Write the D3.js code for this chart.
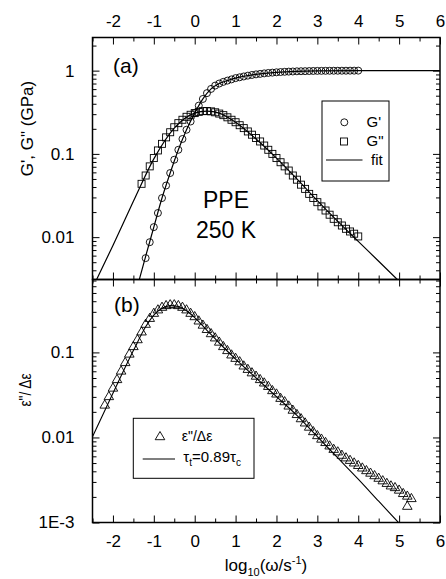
<!DOCTYPE html>
<html><head><meta charset="utf-8">
<script src="https://cdn.jsdelivr.net/npm/d3@7"></script>
<style>
html,body{margin:0;padding:0;background:#fff}
svg{display:block}
text{font-family:"Liberation Sans",Arial,sans-serif;fill:#000}
</style>
</head><body><div id="chart"></div>
<script>
// ---------------- data ----------------
const xTickValues = [-2,-1,0,1,2,3,4,5,6];
const xTickLabels = ["-2","-1","0","1","2","3","4","5","6"];
const xMinorTicks = [-2.5,-1.5,-0.5,0.5,1.5,2.5,3.5,4.5,5.5];
const yaTickValues = [0.01,0.1,1];
const yaTickLabels = ["0.01","0.1","1"];
const ybTickValues = [0.001,0.01,0.1];
const ybTickLabels = ["1E-3","0.01","0.1"];

// panel (a): storage modulus G' (circles)
const logW_Gp = [-1.2,-1.1,-1.0,-0.9,-0.8,-0.7,-0.6,-0.5,-0.4,-0.3,-0.2,-0.1,0.0,0.1,0.2,0.3,0.4,0.5,0.6,0.7,0.8,0.9,1.0,1.1,1.2,1.3,1.4,1.5,1.6,1.7,1.8,1.9,2.0,2.1,2.2,2.3,2.4,2.5,2.6,2.7,2.8,2.9,3.0,3.1,3.2,3.3,3.4,3.5,3.6,3.7,3.8,3.9,4.0];
const Gp = [0.0056,0.0087,0.0132,0.0195,0.0295,0.0417,0.0589,0.0851,0.112,0.151,0.195,0.245,0.309,0.380,0.457,0.537,0.603,0.661,0.700,0.733,0.759,0.785,0.813,0.832,0.851,0.871,0.887,0.902,0.914,0.927,0.938,0.946,0.955,0.962,0.968,0.973,0.977,0.982,0.984,0.986,0.989,0.991,0.993,0.994,0.995,0.996,0.997,0.997,0.998,0.998,0.999,0.999,1.0];

// panel (a): loss modulus G'' (squares)
const logW_Gpp = [-1.3,-1.2,-1.1,-1.0,-0.9,-0.8,-0.7,-0.6,-0.5,-0.4,-0.3,-0.2,-0.1,0.0,0.1,0.2,0.3,0.4,0.5,0.6,0.7,0.8,0.9,1.0,1.1,1.2,1.3,1.4,1.5,1.6,1.7,1.8,1.9,2.0,2.1,2.2,2.3,2.4,2.5,2.6,2.7,2.8,2.9,3.0,3.1,3.2,3.3,3.4,3.5,3.6,3.7,3.8,3.9,4.0];
const Gpp = [0.0437,0.0550,0.0708,0.0891,0.110,0.132,0.158,0.182,0.209,0.234,0.257,0.279,0.295,0.309,0.320,0.326,0.327,0.324,0.316,0.305,0.292,0.275,0.257,0.240,0.221,0.204,0.186,0.170,0.155,0.141,0.126,0.112,0.100,0.0891,0.0794,0.0708,0.0631,0.0550,0.0490,0.0427,0.0380,0.0331,0.0295,0.0263,0.0234,0.0209,0.0186,0.0166,0.0151,0.0138,0.0126,0.0117,0.0110,0.0102];

// panel (a): fits
const fitGp_x = [-1.4,-1.2,-1.0,-0.8,-0.6,-0.4,-0.2,0.0,0.2,0.4,0.6,0.8,1.0,1.5,2.0,2.5,3.0,4.0,5.0,6.0];
const fitGp_y = [0.00257,0.00589,0.0132,0.0295,0.0589,0.112,0.195,0.309,0.457,0.603,0.700,0.759,0.813,0.902,0.955,0.982,0.993,0.999,1.0,1.0];
const fitGpp_x = [-2.45,-2.0,-1.5,-1.0,-0.5,0.0,0.3,0.6,1.0,1.5,2.0,2.5,3.0,3.5,4.0,4.5,5.0];
const fitGpp_y = [0.00275,0.00794,0.0269,0.0871,0.204,0.309,0.327,0.309,0.240,0.151,0.0891,0.0501,0.0275,0.0155,0.00891,0.00513,0.00295];

// panel (b): normalised dielectric loss (triangles)
const logW_eps = [-2.2,-2.1,-2.0,-1.9,-1.8,-1.7,-1.6,-1.5,-1.4,-1.3,-1.2,-1.1,-1.0,-0.9,-0.8,-0.7,-0.6,-0.5,-0.4,-0.3,-0.2,-0.1,0.0,0.1,0.2,0.3,0.4,0.5,0.6,0.7,0.8,0.9,1.0,1.1,1.2,1.3,1.4,1.5,1.6,1.7,1.8,1.9,2.0,2.1,2.2,2.3,2.4,2.5,2.6,2.7,2.8,2.9,3.0,3.1,3.2,3.3,3.4,3.5,3.6,3.7,3.8,3.9,4.0,4.1,4.2,4.3,4.4,4.5,4.6,4.7,4.8,4.9,5.0,5.1,5.2,5.3,5.2];
const epsN = [0.0240,0.0302,0.0380,0.0479,0.0603,0.0759,0.0955,0.117,0.141,0.174,0.214,0.251,0.288,0.316,0.339,0.355,0.363,0.363,0.355,0.339,0.316,0.288,0.263,0.234,0.209,0.186,0.166,0.148,0.132,0.117,0.105,0.0933,0.0851,0.0776,0.0692,0.0631,0.0575,0.0525,0.0479,0.0437,0.0398,0.0355,0.0324,0.0288,0.0263,0.0234,0.0209,0.0186,0.0166,0.0148,0.0132,0.0117,0.0105,0.00955,0.00871,0.00794,0.00724,0.00676,0.00617,0.00575,0.00537,0.00501,0.00468,0.00437,0.00407,0.00380,0.00355,0.00331,0.00309,0.00288,0.00269,0.00257,0.00240,0.00219,0.00204,0.00191,0.00155];

// panel (b): fit
const fitEps_x = [-2.5,-2.0,-1.5,-1.2,-1.0,-0.8,-0.6,-0.4,-0.2,0.0,0.3,0.6,1.0,1.5,2.0,2.5,3.0,3.5,4.0,4.5,5.0];
const fitEps_y = [0.0102,0.0331,0.105,0.200,0.275,0.331,0.355,0.347,0.309,0.257,0.182,0.129,0.0832,0.0501,0.0302,0.0182,0.0102,0.00575,0.00324,0.00178,0.00098];

// ---------------- drawing ----------------
const W = 446, H = 579;
const L = 92.5, R = 440, T = 37.5, M = 279.5, B = 522.5;
const FONT = '"Liberation Sans", Arial, sans-serif';

const x  = d3.scaleLinear().domain([-2.5, 6]).range([L, R]);
const ya = d3.scaleLog().domain([0.0031, 2.5]).range([M, T]);
const yb = d3.scaleLog().domain([0.001, 0.72]).range([B, M]);

const svg = d3.select("#chart").append("svg").attr("width", W).attr("height", H);
const defs = svg.append("defs");
defs.append("clipPath").attr("id", "clipA").append("rect")
  .attr("x", L).attr("y", T).attr("width", R - L).attr("height", M - T);
defs.append("clipPath").attr("id", "clipB").append("rect")
  .attr("x", L).attr("y", M).attr("width", R - L).attr("height", B - M);

function styleAxis(g, fs) {
  g.attr("font-family", null).attr("font-size", null);
  g.select(".domain").remove();
  g.selectAll("line").attr("stroke", "#000").attr("stroke-width", 1);
  g.selectAll("text").attr("font-size", fs).attr("font-family", FONT).attr("fill", "#000");
}
const yaMinor = [0.004,0.005,0.006,0.007,0.008,0.009,0.02,0.03,0.04,0.05,0.06,0.07,0.08,0.09,0.2,0.3,0.4,0.5,0.6,0.7,0.8,0.9,2];
const ybMinor = [0.002,0.003,0.004,0.005,0.006,0.007,0.008,0.009,0.02,0.03,0.04,0.05,0.06,0.07,0.08,0.09,0.2,0.3,0.4,0.5,0.6,0.7];

const MAJ = 7, MIN = 4;

// top axis (labels)
svg.append("g").attr("transform", `translate(0,${T})`)
  .call(d3.axisTop(x).tickValues(xTickValues).tickSize(-MAJ).tickPadding(11)
    .tickFormat((d, i) => xTickLabels[i]))
  .call(g => styleAxis(g, 17));
svg.append("g").attr("transform", `translate(0,${T})`)
  .call(d3.axisTop(x).tickValues(xMinorTicks).tickSize(-MIN).tickFormat(""))
  .call(g => styleAxis(g, 17));

// middle axis: ticks into (a) and into (b)
[d3.axisBottom, d3.axisTop].forEach(ax => {
  svg.append("g").attr("transform", `translate(0,${M})`)
    .call(ax(x).tickValues(xTickValues).tickSize(-MAJ).tickFormat(""))
    .call(g => styleAxis(g, 17));
  svg.append("g").attr("transform", `translate(0,${M})`)
    .call(ax(x).tickValues(xMinorTicks).tickSize(-MIN).tickFormat(""))
    .call(g => styleAxis(g, 17));
});

// bottom axis (labels)
svg.append("g").attr("transform", `translate(0,${B})`)
  .call(d3.axisBottom(x).tickValues(xTickValues).tickSize(-MAJ).tickPadding(12)
    .tickFormat((d, i) => xTickLabels[i]))
  .call(g => styleAxis(g, 17));
svg.append("g").attr("transform", `translate(0,${B})`)
  .call(d3.axisBottom(x).tickValues(xMinorTicks).tickSize(-MIN).tickFormat(""))
  .call(g => styleAxis(g, 17));

// left / right axes panel (a)
svg.append("g").attr("transform", `translate(${L},0)`)
  .call(d3.axisLeft(ya).tickValues(yaTickValues).tickSize(-MAJ).tickPadding(18)
    .tickFormat((d, i) => yaTickLabels[i]))
  .call(g => styleAxis(g, 17));
svg.append("g").attr("transform", `translate(${L},0)`)
  .call(d3.axisLeft(ya).tickValues(yaMinor).tickSize(-MIN).tickFormat(""))
  .call(g => styleAxis(g, 17));
svg.append("g").attr("transform", `translate(${R},0)`)
  .call(d3.axisRight(ya).tickValues(yaTickValues).tickSize(-MAJ).tickFormat(""))
  .call(g => styleAxis(g, 17));
svg.append("g").attr("transform", `translate(${R},0)`)
  .call(d3.axisRight(ya).tickValues(yaMinor).tickSize(-MIN).tickFormat(""))
  .call(g => styleAxis(g, 17));

// left / right axes panel (b)
svg.append("g").attr("transform", `translate(${L},0)`)
  .call(d3.axisLeft(yb).tickValues(ybTickValues).tickSize(-MAJ).tickPadding(18)
    .tickFormat((d, i) => ybTickLabels[i]))
  .call(g => styleAxis(g, 17));
svg.append("g").attr("transform", `translate(${L},0)`)
  .call(d3.axisLeft(yb).tickValues(ybMinor).tickSize(-MIN).tickFormat(""))
  .call(g => styleAxis(g, 17));
svg.append("g").attr("transform", `translate(${R},0)`)
  .call(d3.axisRight(yb).tickValues(ybTickValues).tickSize(-MAJ).tickFormat(""))
  .call(g => styleAxis(g, 17));
svg.append("g").attr("transform", `translate(${R},0)`)
  .call(d3.axisRight(yb).tickValues(ybMinor).tickSize(-MIN).tickFormat(""))
  .call(g => styleAxis(g, 17));

// frames
svg.append("rect").attr("x", L).attr("y", T).attr("width", R - L).attr("height", M - T)
  .attr("fill", "none").attr("stroke", "#000").attr("stroke-width", 1.5);
svg.append("rect").attr("x", L).attr("y", M).attr("width", R - L).attr("height", B - M)
  .attr("fill", "none").attr("stroke", "#000").attr("stroke-width", 1.5);

// ---- panel (a) data ----
const gA = svg.append("g").attr("clip-path", "url(#clipA)");
const lineA = d3.line().x(d => x(d[0])).y(d => ya(d[1])).curve(d3.curveMonotoneX);
gA.append("path").datum(d3.zip(fitGp_x, fitGp_y)).attr("d", lineA)
  .attr("fill", "none").attr("stroke", "#000").attr("stroke-width", 1.2);
gA.append("path").datum(d3.zip(fitGpp_x, fitGpp_y)).attr("d", lineA)
  .attr("fill", "none").attr("stroke", "#000").attr("stroke-width", 1.2);

gA.selectAll("circle.gp").data(d3.zip(logW_Gp, Gp)).join("circle")
  .attr("cx", d => x(d[0])).attr("cy", d => ya(d[1])).attr("r", 3.5)
  .attr("fill", "none").attr("stroke", "#000").attr("stroke-width", 0.9);
const sq = 7;
gA.selectAll("rect.gpp").data(d3.zip(logW_Gpp, Gpp)).join("rect")
  .attr("x", d => x(d[0]) - sq / 2).attr("y", d => ya(d[1]) - sq / 2)
  .attr("width", sq).attr("height", sq)
  .attr("fill", "none").attr("stroke", "#000").attr("stroke-width", 0.9);

// ---- panel (b) data ----
const gB = svg.append("g").attr("clip-path", "url(#clipB)");
const lineB = d3.line().x(d => x(d[0])).y(d => yb(d[1])).curve(d3.curveMonotoneX);
gB.append("path").datum(d3.zip(fitEps_x, fitEps_y)).attr("d", lineB)
  .attr("fill", "none").attr("stroke", "#000").attr("stroke-width", 1.1);
const tri = "M0,-5.2L4.8,3L-4.8,3Z";
gB.selectAll("path.tri").data(d3.zip(logW_eps, epsN)).join("path")
  .attr("class", "tri")
  .attr("transform", d => `translate(${x(d[0])},${yb(d[1])})`)
  .attr("d", tri).attr("fill", "none").attr("stroke", "#000").attr("stroke-width", 0.9);

// ---- texts ----
svg.append("text").attr("x", 113).attr("y", 73).attr("font-size", 21).text("(a)");
svg.append("text").attr("x", 114).attr("y", 312).attr("font-size", 21).text("(b)");
svg.append("text").attr("x", 226).attr("y", 208).attr("font-size", 23).attr("text-anchor", "middle").text("PPE");
svg.append("text").attr("x", 226).attr("y", 238).attr("font-size", 23).attr("text-anchor", "middle").text("250 K");

// y titles
svg.append("text").attr("transform", "translate(33,128.5) rotate(-90)")
  .attr("text-anchor", "middle").attr("font-size", 17).text("G', G\" (GPa)");
svg.append("text").attr("transform", "translate(31,390) rotate(-90)")
  .attr("text-anchor", "middle").attr("font-size", 16)
  .attr("textLength", 33).attr("lengthAdjust", "spacingAndGlyphs").text("ε\"/ Δε");

// x title
const xt = svg.append("text").attr("x", 266).attr("y", 571).attr("text-anchor", "middle").attr("font-size", 17);
xt.append("tspan").text("log");
xt.append("tspan").attr("font-size", 11).attr("dy", 5).text("10");
xt.append("tspan").attr("dy", -5).text("(ω/s");
xt.append("tspan").attr("font-size", 11).attr("dy", -7).text("-1");
xt.append("tspan").attr("dy", 7).text(")");

// legend (a)
svg.append("rect").attr("x", 322).attr("y", 101).attr("width", 67).attr("height", 80)
  .attr("fill", "#fff").attr("stroke", "#000").attr("stroke-width", 1);
svg.append("circle").attr("cx", 344.3).attr("cy", 122.3).attr("r", 3.5)
  .attr("fill", "none").attr("stroke", "#000").attr("stroke-width", 0.9);
svg.append("rect").attr("x", 344 - sq / 2).attr("y", 141.5 - sq / 2).attr("width", sq).attr("height", sq)
  .attr("fill", "none").attr("stroke", "#000").attr("stroke-width", 0.9);
svg.append("line").attr("x1", 326).attr("x2", 362.5).attr("y1", 160).attr("y2", 160)
  .attr("stroke", "#000").attr("stroke-width", 1.2);
svg.append("text").attr("x", 366.5).attr("y", 126.5).attr("font-size", 15).text("G'");
svg.append("text").attr("x", 366.5).attr("y", 146).attr("font-size", 15).text("G\"");
svg.append("text").attr("x", 371).attr("y", 165).attr("font-size", 15).text("fit");

// legend (b)
svg.append("rect").attr("x", 133.3).attr("y", 418.3).attr("width", 120.7).attr("height", 60)
  .attr("fill", "#fff").attr("stroke", "#000").attr("stroke-width", 1);
svg.append("path").attr("transform", "translate(160,436.7)").attr("d", tri)
  .attr("fill", "none").attr("stroke", "#000").attr("stroke-width", 0.9);
svg.append("text").attr("x", 181.7).attr("y", 441).attr("font-size", 14).text("ε\"/Δε");
svg.append("line").attr("x1", 142.7).attr("x2", 175).attr("y1", 459).attr("y2", 459)
  .attr("stroke", "#000").attr("stroke-width", 1.1);
const lt = svg.append("text").attr("x", 183.3).attr("y", 461.5).attr("font-size", 15);
lt.append("tspan").text("τ");
lt.append("tspan").attr("font-size", 10).attr("dy", 4).text("t");
lt.append("tspan").attr("dy", -4).text("=0.89τ");
lt.append("tspan").attr("font-size", 10).attr("dy", 4).text("c");
</script>
</body></html>
